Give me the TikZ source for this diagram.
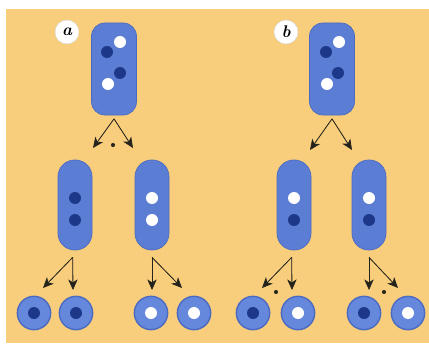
\documentclass[tikz,border=0pt]{standalone}
\usetikzlibrary{arrows.meta}
\definecolor{bgyellow}{HTML}{F8CD7B}
\definecolor{cellblue}{HTML}{5B7ED4}
\definecolor{celledge}{HTML}{4B6BC2}
\definecolor{sporeblue}{HTML}{6587DC}
\definecolor{darkdot}{HTML}{1D3889}
\definecolor{arrowgray}{HTML}{24231C}

\tikzset{
 cell/.style={draw=celledge, fill=cellblue, line width=0.6pt, rounded corners=0.4cm, minimum width=1.35cm, minimum height=2.76cm, inner sep=0pt},
 chrom/.style={draw=celledge, fill=cellblue, line width=0.6pt, rounded corners=0.5cm, minimum width=1.02cm, minimum height=2.7cm, inner sep=0pt},
 spore/.style={circle, draw=celledge, fill=sporeblue, line width=1.2pt, minimum size=1.0cm, inner sep=0pt},
 dk/.style={circle, fill=darkdot, minimum size=0.36cm, inner sep=0pt},
 wt/.style={circle, fill=white, minimum size=0.36cm, inner sep=0pt},
 lbl/.style={circle, fill=white, draw=white!85!black, minimum size=0.72cm, inner sep=0pt, font=\bfseries\itshape\Large},
 split/.style={-{Stealth[length=9pt,width=8pt,inset=2.5pt]}, draw=arrowgray, fill=arrowgray, line width=0.7pt},
 spot/.style={circle, fill=arrowgray, minimum size=3.5pt, inner sep=0pt},
}

\begin{document}
\begin{tikzpicture}[x=0.03cm, y=-0.03cm]
 \useasboundingbox (0,0) rectangle (429,343);
 \fill[bgyellow] (6,9) rectangle (429,343);

 % a
 \node[lbl] (la) at (67,32) {a};
 \node[cell] (a0) at (114,69) {};
 \node[wt] (a0d1) at (120,42) {};
 \node[dk] (a0d2) at (107,52) {};
 \node[dk] (a0d3) at (120,73) {};
 \node[wt] (a0d4) at (108,84) {};

 \node[chrom] (a1) at (75,205) {};
 \node[dk] (a1d1) at (75,198) {};
 \node[dk] (a1d2) at (75,220) {};
 \node[chrom] (a2) at (152,205) {};
 \node[wt] (a2d1) at (152,198) {};
 \node[wt] (a2d2) at (152,220) {};

 \coordinate (a0l) at (93,148);
 \coordinate (a0r) at (133,148);
 \draw[split] ([yshift=-3pt]a0.south) -- (a0l);
 \draw[split] ([yshift=-3pt]a0.south) -- (a0r);
 \node[spot] (a0p) at (113,145) {};

 \coordinate (a1l) at (43,288);
 \coordinate (a1r) at (73,290);
 \draw[split] ([xshift=-2pt,yshift=-6pt]a1.south) -- (a1l);
 \draw[split] ([xshift=-2pt,yshift=-6pt]a1.south) -- (a1r);
 \coordinate (a2l) at (152,290);
 \coordinate (a2r) at (182,288);
 \draw[split] ([yshift=-6pt]a2.south) -- (a2l);
 \draw[split] ([yshift=-6pt]a2.south) -- (a2r);

 \node[spore] (s1) at (34,313) {};
 \node[dk] at (s1) {};
 \node[spore] (s2) at (76,313) {};
 \node[dk] at (s2) {};
 \node[spore] (s3) at (151,313) {};
 \node[wt] at (s3) {};
 \node[spore] (s4) at (194,313) {};
 \node[wt] at (s4) {};

 % b
 \node[lbl] (lb) at (286,32) {b};
 \node[cell] (b0) at (332,69) {};
 \node[wt] (b0d1) at (339,42) {};
 \node[dk] (b0d2) at (326,52) {};
 \node[dk] (b0d3) at (338,73) {};
 \node[wt] (b0d4) at (327,84) {};

 \node[chrom] (b1) at (294,205) {};
 \node[wt] (b1d1) at (294,198) {};
 \node[dk] (b1d2) at (294,220) {};
 \node[chrom] (b2) at (369,205) {};
 \node[wt] (b2d1) at (369,198) {};
 \node[dk] (b2d2) at (369,220) {};

 \coordinate (b0l) at (310,150);
 \coordinate (b0r) at (352,150);
 \draw[split] ([yshift=-3pt]b0.south) -- (b0l);
 \draw[split] ([yshift=-3pt]b0.south) -- (b0r);

 \coordinate (b1l) at (262,288);
 \coordinate (b1r) at (292,290);
 \draw[split] ([xshift=-2pt,yshift=-6pt]b1.south) -- (b1l);
 \draw[split] ([xshift=-2pt,yshift=-6pt]b1.south) -- (b1r);
 \node[spot] (b1p) at (276,292) {};
 \coordinate (b2l) at (369,290);
 \coordinate (b2r) at (398,288);
 \draw[split] ([yshift=-6pt]b2.south) -- (b2l);
 \draw[split] ([yshift=-6pt]b2.south) -- (b2r);
 \node[spot] (b2p) at (384,292) {};

 \node[spore] (t1) at (253,313) {};
 \node[dk] at (t1) {};
 \node[spore] (t2) at (298,313) {};
 \node[wt] at (t2) {};
 \node[spore] (t3) at (364,313) {};
 \node[dk] at (t3) {};
 \node[spore] (t4) at (408,313) {};
 \node[wt] at (t4) {};
\end{tikzpicture}
\end{document}
